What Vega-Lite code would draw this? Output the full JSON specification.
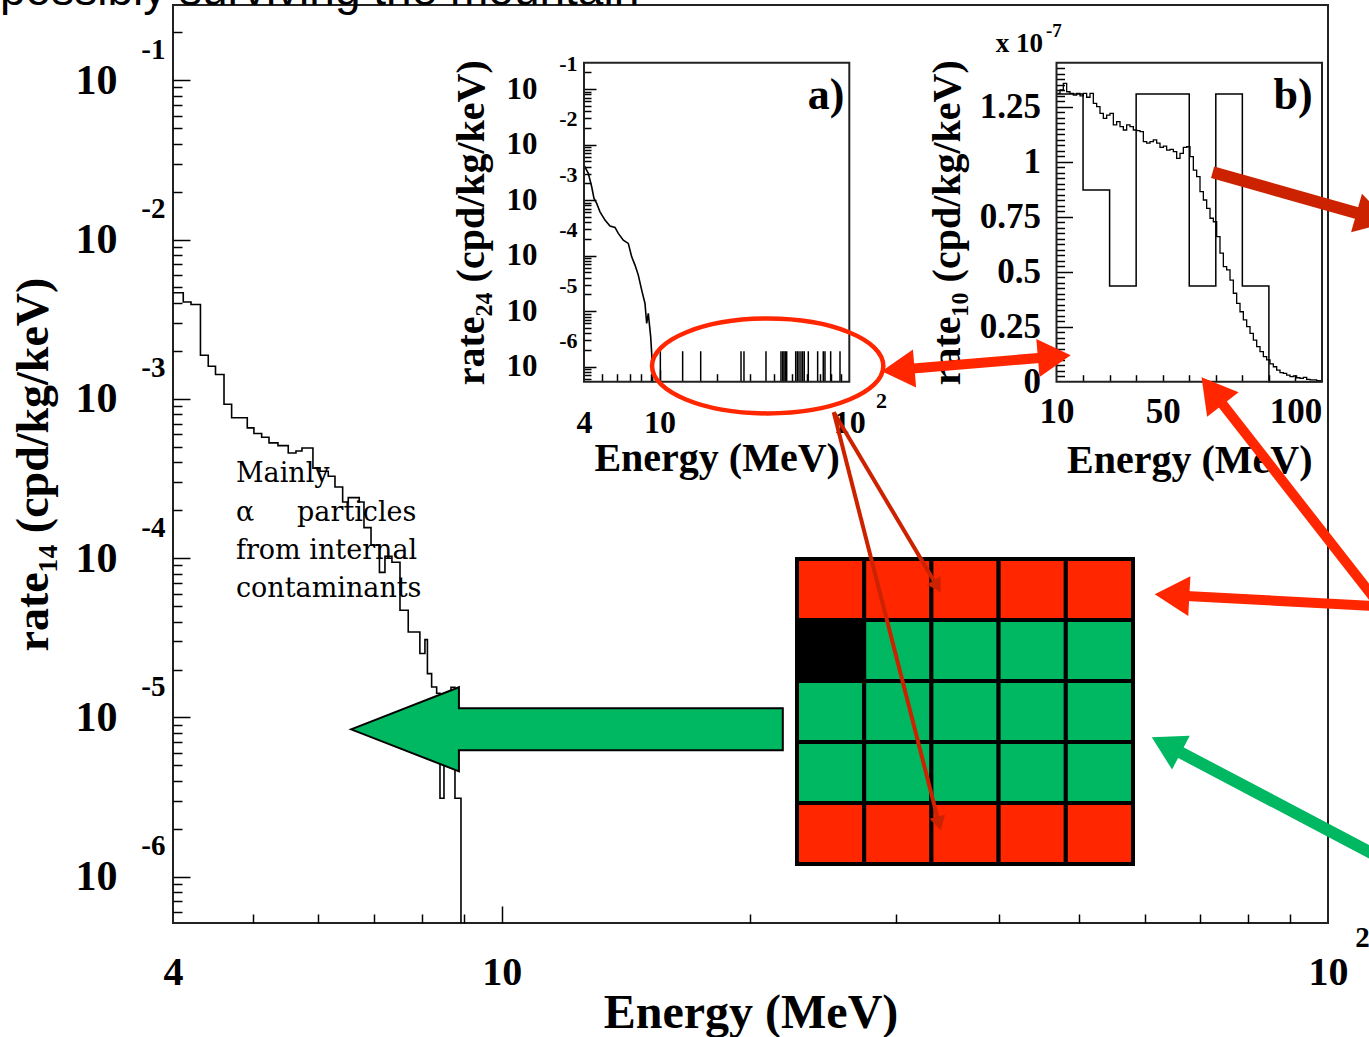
{
  "$schema": "https://vega.github.io/schema/vega-lite/v6.json",
  "width": 1155,
  "height": 918,
  "autosize": "none",
  "padding": {"left": 173, "top": 5, "right": 41, "bottom": 114},
  "config": {
    "view": {"stroke": "#222", "strokeWidth": 2},
    "axis": {"labelFont": "Liberation Serif", "labelFontWeight": "bold", "labelColor": "black", "titleFont": "Liberation Serif", "titleFontWeight": "bold", "titleColor": "black", "tickColor": "black", "tickWidth": 1.5, "domain": false, "grid": false, "labelFlush": false, "labelOverlap": false, "labelBound": false}
  },
  "layer": [
    {
      "data": {"values": [
        {"energy": 4.0, "rate": 4.634e-3}, {"energy": 4.116, "rate": 4.058e-3}, {"energy": 4.206, "rate": 3.908e-3},
        {"energy": 4.318, "rate": 1.878e-3}, {"energy": 4.413, "rate": 1.602e-3}, {"energy": 4.503, "rate": 1.421e-3},
        {"energy": 4.611, "rate": 9.25e-4}, {"energy": 4.710, "rate": 7.61e-4}, {"energy": 4.920, "rate": 6.57e-4},
        {"energy": 5.012, "rate": 6.06e-4}, {"energy": 5.121, "rate": 5.74e-4}, {"energy": 5.227, "rate": 5.29e-4},
        {"energy": 5.359, "rate": 5.09e-4}, {"energy": 5.515, "rate": 4.57e-4}, {"energy": 5.635, "rate": 4.71e-4},
        {"energy": 5.730, "rate": 4.92e-4}, {"energy": 5.908, "rate": 3.67e-4}, {"energy": 6.025, "rate": 3.51e-4},
        {"energy": 6.166, "rate": 3.27e-4}, {"energy": 6.282, "rate": 2.80e-4}, {"energy": 6.418, "rate": 2.25e-4},
        {"energy": 6.519, "rate": 2.40e-4}, {"energy": 6.722, "rate": 2.25e-4}, {"energy": 6.811, "rate": 1.556e-4},
        {"energy": 6.946, "rate": 1.205e-4}, {"energy": 7.111, "rate": 8.15e-5}, {"energy": 7.221, "rate": 1.028e-4},
        {"energy": 7.363, "rate": 9.42e-5}, {"energy": 7.530, "rate": 4.71e-5}, {"energy": 7.705, "rate": 3.44e-5},
        {"energy": 7.959, "rate": 2.52e-5}, {"energy": 8.072, "rate": 3.08e-5}, {"energy": 8.128, "rate": 1.886e-5},
        {"energy": 8.224, "rate": 1.554e-5}, {"energy": 8.340, "rate": 1.419e-5}, {"energy": 8.418, "rate": 3.11e-6},
        {"energy": 8.512, "rate": 9.6e-6}, {"energy": 8.680, "rate": 1.547e-5}, {"energy": 8.777, "rate": 3.11e-6},
        {"energy": 8.925, "rate": 5.13e-7}
      ]},
      "layer": [
        {
          "mark": {"type": "line", "interpolate": "step-after", "color": "black", "strokeWidth": 1.6},
          "encoding": {
            "x": {"field": "energy", "type": "quantitative", "scale": {"type": "log", "domain": [4, 100], "nice": false},
              "axis": {"orient": "bottom", "values": [4, 10, 100], "labelExpr": "datum.value == 100 ? '10' : '' + datum.value", "ticks": false, "labelFontSize": 40, "labelPadding": 29, "title": "Energy (MeV)", "titleFontSize": 48, "titlePadding": -3}},
            "y": {"field": "rate", "type": "quantitative", "scale": {"type": "log", "domain": [5.13e-7, 0.2965], "nice": false},
              "axis": {"orient": "left", "values": [0.1, 0.01, 0.001, 0.0001, 0.00001, 0.000001], "labelExpr": "'10'", "ticks": false, "labelFontSize": 42, "labelPadding": 56, "labelBaseline": "middle", "title": "rate₁₄ (cpd/kg/keV)", "titleFontSize": 46, "titlePadding": 18}}
          }
        },
        {
          "mark": {"type": "point", "opacity": 0},
          "encoding": {
            "x": {"field": "energy", "type": "quantitative", "axis": {"orient": "bottom", "values": [100], "labelExpr": "'2'", "ticks": false, "labelFontSize": 29, "labelPadding": 0, "labelOffset": 34, "title": null}},
            "y": {"field": "rate", "type": "quantitative", "axis": {"orient": "left", "values": [0.1, 0.01, 0.001, 0.0001, 0.00001, 0.000001], "labelExpr": "'' + round(log(datum.value)/LN10)", "ticks": false, "labelFontSize": 29, "labelPadding": 8, "labelOffset": -31, "labelBaseline": "middle", "title": null}}
          }
        },
        {
          "mark": {"type": "point", "opacity": 0},
          "encoding": {
            "x": {"field": "energy", "type": "quantitative", "axis": {"orient": "bottom", "values": [5, 6, 7, 8, 9, 10, 20, 30, 40, 50, 60, 70, 80, 90], "labels": false, "tickSize": {"condition": {"test": "datum.value == 10", "value": -17}, "value": -9}, "title": null}},
            "y": {"field": "rate", "type": "quantitative", "axis": {"orient": "left", "values": [6e-7, 7e-7, 8e-7, 9e-7, 1e-6, 2e-6, 3e-6, 4e-6, 5e-6, 6e-6, 7e-6, 8e-6, 9e-6, 1e-5, 2e-5, 3e-5, 4e-5, 5e-5, 6e-5, 7e-5, 8e-5, 9e-5, 1e-4, 2e-4, 3e-4, 4e-4, 5e-4, 6e-4, 7e-4, 8e-4, 9e-4, 1e-3, 2e-3, 3e-3, 4e-3, 5e-3, 6e-3, 7e-3, 8e-3, 9e-3, 1e-2, 2e-2, 3e-2, 4e-2, 5e-2, 6e-2, 7e-2, 8e-2, 9e-2, 0.1, 0.2], "labels": false, "tickSize": {"condition": {"test": "abs(log(datum.value)/LN10 - round(log(datum.value)/LN10)) < 0.01", "value": -17}, "value": -9}, "title": null}}
          }
        },
        {
          "data": {"values": [{"energy": 4.767, "rate": 4.045e-4, "note": "Mainly\nα\u00a0\u00a0\u00a0\u00a0\u00a0particles\nfrom internal\ncontaminants"}]},
          "mark": {"type": "text", "align": "left", "baseline": "top", "font": "DejaVu Serif", "fontSize": 27, "lineHeight": 38.3, "lineBreak": "\n", "color": "black"},
          "encoding": {
            "x": {"field": "energy", "type": "quantitative", "axis": null},
            "y": {"field": "rate", "type": "quantitative", "axis": null},
            "text": {"field": "note"}
          }
        },
        {
          "data": {"values": [{"energy": 2.47, "rate": 0.2957, "note": "possibly surviving the mountain"}]},
          "mark": {"type": "text", "align": "left", "baseline": "alphabetic", "font": "Liberation Sans", "fontSize": 46, "color": "black"},
          "encoding": {
            "x": {"field": "energy", "type": "quantitative", "axis": null},
            "y": {"field": "rate", "type": "quantitative", "axis": null},
            "text": {"field": "note"}
          }
        },
        {
          "data": {"values": [
            {"energy": 6.570, "rate": 8.43e-6, "rate2": 8.43e-6},
            {"energy": 8.874, "rate": 1.547e-5, "rate2": 4.594e-6},
            {"energy": 8.874, "rate": 1.142e-5, "rate2": 6.224e-6},
            {"energy": 21.885, "rate": 1.142e-5, "rate2": 6.224e-6}
          ]},
          "mark": {"type": "area", "interpolate": "linear", "fill": "#00b862", "stroke": "black", "strokeWidth": 2, "opacity": 1, "fillOpacity": 1},
          "encoding": {
            "x": {"field": "energy", "type": "quantitative", "axis": null},
            "y": {"field": "rate", "type": "quantitative", "axis": null},
            "y2": {"field": "rate2"}
          }
        }
      ],
      "resolve": {"axis": {"x": "independent", "y": "independent"}}
    },
    {
      "data": {"values": [
        {"energy": 4.0, "rate": 4.28e-3}, {"energy": 4.214, "rate": 3.03e-3}, {"energy": 4.391, "rate": 1.738e-3},
        {"energy": 4.515, "rate": 1.074e-3}, {"energy": 4.666, "rate": 8.73e-4}, {"energy": 4.857, "rate": 6.15e-4},
        {"energy": 5.160, "rate": 4.36e-4}, {"energy": 5.484, "rate": 3.40e-4}, {"energy": 5.826, "rate": 3.22e-4},
        {"energy": 6.064, "rate": 2.51e-4}, {"energy": 6.444, "rate": 1.90e-4}, {"energy": 6.847, "rate": 1.66e-4},
        {"energy": 7.135, "rate": 9.5e-5}, {"energy": 7.426, "rate": 6.75e-5}, {"energy": 7.730, "rate": 4.46e-5},
        {"energy": 8.055, "rate": 2.39e-5}, {"energy": 8.384, "rate": 1.377e-5}, {"energy": 8.558, "rate": 6.0e-6},
        {"energy": 8.727, "rate": 9.1e-6}, {"energy": 8.984, "rate": 3.44e-6}, {"energy": 9.094, "rate": 1.73e-6},
        {"energy": 9.206, "rate": 5.37e-7}
      ]},
      "layer": [
        {
          "mark": {"type": "line", "color": "black", "strokeWidth": 1.6},
          "encoding": {
            "x": {"field": "energy", "type": "quantitative", "scale": {"type": "log", "domain": [4, 100], "range": [411, 676.3], "nice": false},
              "axis": {"orient": "bottom", "offset": -541.3, "values": [4, 10, 100], "labelExpr": "datum.value == 100 ? '10' : '' + datum.value", "ticks": false, "labelFontSize": 32, "labelPadding": 26, "title": "Energy (MeV)", "titleFontSize": 40, "titlePadding": 0}},
            "y": {"field": "rate", "type": "quantitative", "scale": {"type": "log", "domain": [5.37e-7, 0.298], "range": [376.7, 57.7], "nice": false},
              "axis": {"orient": "left", "offset": -411, "values": [0.1, 0.01, 0.001, 0.0001, 0.00001, 0.000001], "labelExpr": "'10'", "ticks": false, "labelFontSize": 31, "labelPadding": 47, "labelBaseline": "middle", "title": "rate₂₄ (cpd/kg/keV)", "titleFontSize": 40, "titlePadding": 15}}
          }
        },
        {
          "mark": {"type": "point", "opacity": 0},
          "encoding": {
            "x": {"field": "energy", "type": "quantitative", "axis": {"orient": "bottom", "offset": -541.3, "values": [100], "labelExpr": "'2'", "ticks": false, "labelFontSize": 22, "labelPadding": 8.8, "labelOffset": 31.7, "title": null}},
            "y": {"field": "rate", "type": "quantitative", "axis": {"orient": "left", "offset": -411, "values": [0.1, 0.01, 0.001, 0.0001, 0.00001, 0.000001], "labelExpr": "'' + round(log(datum.value)/LN10)", "ticks": false, "labelFontSize": 22, "labelPadding": 7, "labelOffset": -26, "labelBaseline": "middle", "title": null}}
          }
        },
        {
          "mark": {"type": "point", "opacity": 0},
          "encoding": {
            "x": {"field": "energy", "type": "quantitative", "axis": {"orient": "bottom", "offset": -541.3, "values": [5, 6, 7, 8, 9, 10, 20, 30, 40, 50, 60, 70, 80, 90], "labels": false, "tickSize": {"condition": {"test": "datum.value == 10", "value": -12}, "value": -8}, "title": null}},
            "y": {"field": "rate", "type": "quantitative", "axis": {"orient": "left", "offset": -411, "values": [6e-7, 7e-7, 8e-7, 9e-7, 1e-6, 2e-6, 3e-6, 4e-6, 5e-6, 6e-6, 7e-6, 8e-6, 9e-6, 1e-5, 2e-5, 3e-5, 4e-5, 5e-5, 6e-5, 7e-5, 8e-5, 9e-5, 1e-4, 2e-4, 3e-4, 4e-4, 5e-4, 6e-4, 7e-4, 8e-4, 9e-4, 1e-3, 2e-3, 3e-3, 4e-3, 5e-3, 6e-3, 7e-3, 8e-3, 9e-3, 1e-2, 2e-2, 3e-2, 4e-2, 5e-2, 6e-2, 7e-2, 8e-2, 9e-2, 0.1, 0.2], "labels": false, "tickSize": {"condition": {"test": "abs(log(datum.value)/LN10 - round(log(datum.value)/LN10)) < 0.01", "value": -12}, "value": -7}, "title": null}}
          }
        },
        {
          "data": {"values": [
            {"energy": 10.1, "rate": 1.9e-6}, {"energy": 13.24, "rate": 1.9e-6}, {"energy": 16.48, "rate": 1.9e-6},
            {"energy": 26.88, "rate": 1.9e-6}, {"energy": 27.86, "rate": 1.9e-6}, {"energy": 36.39, "rate": 1.9e-6},
            {"energy": 43.65, "rate": 1.9e-6}, {"energy": 44.56, "rate": 1.9e-6}, {"energy": 45.27, "rate": 1.9e-6},
            {"energy": 46.01, "rate": 1.9e-6}, {"energy": 46.79, "rate": 1.9e-6}, {"energy": 52.19, "rate": 1.9e-6},
            {"energy": 53.21, "rate": 1.9e-6}, {"energy": 54.32, "rate": 1.9e-6}, {"energy": 55.64, "rate": 1.9e-6},
            {"energy": 56.80, "rate": 1.9e-6}, {"energy": 57.91, "rate": 1.9e-6}, {"energy": 60.80, "rate": 1.9e-6},
            {"energy": 68.11, "rate": 1.9e-6}, {"energy": 72.93, "rate": 1.9e-6}, {"energy": 74.44, "rate": 1.9e-6},
            {"energy": 79.77, "rate": 1.9e-6}, {"energy": 89.33, "rate": 1.9e-6}
          ]},
          "mark": {"type": "rule", "color": "black", "strokeWidth": 1.5},
          "encoding": {
            "x": {"field": "energy", "type": "quantitative", "axis": null},
            "y": {"field": "rate", "type": "quantitative", "axis": null},
            "y2": {"datum": 5.37e-7}
          }
        },
        {
          "data": {"values": [{}]},
          "mark": {"type": "rect", "fill": null, "stroke": "#222", "strokeWidth": 2},
          "encoding": {
            "x": {"datum": 4, "type": "quantitative", "axis": null},
            "x2": {"datum": 100},
            "y": {"datum": 5.37e-7, "type": "quantitative", "axis": null},
            "y2": {"datum": 0.298}
          }
        },
        {
          "data": {"values": [{}]},
          "mark": {"type": "text", "align": "center", "baseline": "alphabetic", "font": "Liberation Serif", "fontWeight": "bold", "fontSize": 44, "color": "black"},
          "encoding": {
            "x": {"datum": 75.4, "type": "quantitative", "axis": null},
            "y": {"datum": 0.0436, "type": "quantitative", "axis": null},
            "text": {"value": "a)"}
          }
        },
        {
          "data": {"values": [{}]},
          "mark": {"type": "point", "shape": "M -1 0 A 1 0.41 0 1 1 1 0 A 1 0.41 0 1 1 -1 0 Z", "size": 53500, "filled": false, "stroke": "#ff2600", "strokeWidth": 4.5, "opacity": 1},
          "encoding": {
            "x": {"datum": 37.15, "type": "quantitative", "axis": null},
            "y": {"datum": 1.03e-6, "type": "quantitative", "axis": null}
          }
        }
      ],
      "resolve": {"axis": {"x": "independent", "y": "independent"}}
    },
    {
      "data": {"values": [
        {"energy": 10.0, "rate": 1.311}, {"energy": 11.32, "rate": 1.326}, {"energy": 12.57, "rate": 1.356},
        {"energy": 13.83, "rate": 1.318}, {"energy": 15.08, "rate": 1.311}, {"energy": 16.34, "rate": 1.303},
        {"energy": 17.60, "rate": 1.311}, {"energy": 18.85, "rate": 1.299}, {"energy": 20.11, "rate": 1.311},
        {"energy": 21.36, "rate": 1.293}, {"energy": 22.62, "rate": 1.311}, {"energy": 23.87, "rate": 1.265},
        {"energy": 25.13, "rate": 1.250}, {"energy": 26.38, "rate": 1.220}, {"energy": 27.64, "rate": 1.197},
        {"energy": 28.90, "rate": 1.212}, {"energy": 30.15, "rate": 1.220}, {"energy": 31.41, "rate": 1.167},
        {"energy": 32.66, "rate": 1.182}, {"energy": 33.92, "rate": 1.159}, {"energy": 35.17, "rate": 1.144},
        {"energy": 36.43, "rate": 1.167}, {"energy": 37.68, "rate": 1.159}, {"energy": 38.94, "rate": 1.144},
        {"energy": 40.19, "rate": 1.141}, {"energy": 41.45, "rate": 1.137}, {"energy": 42.71, "rate": 1.091},
        {"energy": 43.96, "rate": 1.084}, {"energy": 45.22, "rate": 1.091}, {"energy": 46.47, "rate": 1.099},
        {"energy": 47.73, "rate": 1.084}, {"energy": 48.98, "rate": 1.065}, {"energy": 50.24, "rate": 1.071},
        {"energy": 51.49, "rate": 1.053}, {"energy": 52.75, "rate": 1.056}, {"energy": 54.01, "rate": 1.046},
        {"energy": 55.26, "rate": 1.015}, {"energy": 56.52, "rate": 1.038}, {"energy": 57.77, "rate": 1.065},
        {"energy": 59.03, "rate": 1.068}, {"energy": 60.28, "rate": 1.023}, {"energy": 61.54, "rate": 0.962},
        {"energy": 62.79, "rate": 0.932}, {"energy": 64.05, "rate": 0.864}, {"energy": 65.31, "rate": 0.826},
        {"energy": 66.56, "rate": 0.788}, {"energy": 67.82, "rate": 0.743}, {"energy": 69.07, "rate": 0.727},
        {"energy": 70.33, "rate": 0.659}, {"energy": 71.58, "rate": 0.584}, {"energy": 72.84, "rate": 0.523},
        {"energy": 74.09, "rate": 0.508}, {"energy": 75.35, "rate": 0.462}, {"energy": 76.61, "rate": 0.402},
        {"energy": 77.86, "rate": 0.356}, {"energy": 79.12, "rate": 0.318}, {"energy": 80.37, "rate": 0.281},
        {"energy": 81.63, "rate": 0.250}, {"energy": 82.88, "rate": 0.220}, {"energy": 84.14, "rate": 0.189},
        {"energy": 85.40, "rate": 0.159}, {"energy": 86.65, "rate": 0.137}, {"energy": 87.91, "rate": 0.114},
        {"energy": 89.16, "rate": 0.099}, {"energy": 90.42, "rate": 0.081}, {"energy": 91.67, "rate": 0.068},
        {"energy": 92.93, "rate": 0.053}, {"energy": 94.18, "rate": 0.041}, {"energy": 95.44, "rate": 0.038},
        {"energy": 96.69, "rate": 0.030}, {"energy": 97.95, "rate": 0.023}, {"energy": 99.21, "rate": 0.026},
        {"energy": 100.46, "rate": 0.018}, {"energy": 101.72, "rate": 0.015}, {"energy": 102.97, "rate": 0.020},
        {"energy": 104.23, "rate": 0.011}, {"energy": 105.48, "rate": 0.008}, {"energy": 106.74, "rate": 0.008},
        {"energy": 107.99, "rate": 0.005}, {"energy": 109.25, "rate": 0.005}, {"energy": 110.0, "rate": 0.005}
      ]},
      "layer": [
        {
          "mark": {"type": "line", "interpolate": "step-after", "color": "black", "strokeWidth": 1.3},
          "encoding": {
            "x": {"field": "energy", "type": "quantitative", "scale": {"type": "linear", "domain": [10, 110], "range": [883.5, 1149], "nice": false, "zero": false},
              "axis": {"orient": "bottom", "offset": -541.3, "values": [10, 50, 100], "labelExpr": "'' + datum.value", "ticks": false, "labelFontSize": 35, "labelPadding": 12.3, "title": "Energy (MeV)", "titleFontSize": 40, "titlePadding": 11}},
            "y": {"field": "rate", "type": "quantitative", "scale": {"type": "linear", "domain": [0, 1.45], "range": [376.7, 57.7], "nice": false},
              "axis": {"orient": "left", "offset": -883.5, "values": [0, 0.25, 0.5, 0.75, 1, 1.25], "labelExpr": "'' + datum.value", "ticks": false, "labelFontSize": 35, "labelPadding": 16, "labelBaseline": "middle", "title": "rate₁₀ (cpd/kg/keV)", "titleFontSize": 40, "titlePadding": 12}}
          }
        },
        {
          "data": {"values": [
            {"energy": 10, "rate": 1.308}, {"energy": 20, "rate": 0.871}, {"energy": 30, "rate": 0.435},
            {"energy": 40, "rate": 1.308}, {"energy": 50, "rate": 1.308}, {"energy": 60, "rate": 0.435},
            {"energy": 70, "rate": 1.308}, {"energy": 80, "rate": 0.435}, {"energy": 90, "rate": 0},
            {"energy": 110, "rate": 0}
          ]},
          "mark": {"type": "line", "interpolate": "step-after", "color": "black", "strokeWidth": 1.5},
          "encoding": {
            "x": {"field": "energy", "type": "quantitative", "axis": null},
            "y": {"field": "rate", "type": "quantitative", "axis": null}
          }
        },
        {
          "mark": {"type": "point", "opacity": 0},
          "encoding": {
            "x": {"field": "energy", "type": "quantitative", "axis": {"orient": "bottom", "offset": -541.3, "values": [20, 30, 40, 50, 60, 70, 80, 90, 100], "labels": false, "tickSize": -7, "title": null}},
            "y": {"field": "rate", "type": "quantitative", "axis": {"orient": "left", "offset": -883.5, "values": [0.025, 0.05, 0.075, 0.1, 0.125, 0.15, 0.175, 0.2, 0.225, 0.25, 0.275, 0.3, 0.325, 0.35, 0.375, 0.4, 0.425, 0.45, 0.475, 0.5, 0.525, 0.55, 0.575, 0.6, 0.625, 0.65, 0.675, 0.7, 0.725, 0.75, 0.775, 0.8, 0.825, 0.85, 0.875, 0.9, 0.925, 0.95, 0.975, 1, 1.025, 1.05, 1.075, 1.1, 1.125, 1.15, 1.175, 1.2, 1.225, 1.25, 1.275, 1.3, 1.325, 1.35, 1.375, 1.4, 1.425], "labels": false, "tickSize": {"condition": {"test": "abs(datum.value/0.25 - round(datum.value/0.25)) < 0.001", "value": -16}, "value": -8}, "title": null}}
          }
        },
        {
          "data": {"values": [{}]},
          "mark": {"type": "rect", "fill": null, "stroke": "#222", "strokeWidth": 2},
          "encoding": {
            "x": {"datum": 10, "type": "quantitative", "axis": null},
            "x2": {"datum": 110},
            "y": {"datum": 0, "type": "quantitative", "axis": null},
            "y2": {"datum": 1.45}
          }
        },
        {
          "data": {"values": [{}]},
          "mark": {"type": "text", "align": "center", "baseline": "alphabetic", "font": "Liberation Serif", "fontWeight": "bold", "fontSize": 44, "color": "black"},
          "encoding": {
            "x": {"datum": 99.08, "type": "quantitative", "axis": null},
            "y": {"datum": 1.2395, "type": "quantitative", "axis": null},
            "text": {"value": "b)"}
          }
        },
        {
          "data": {"values": [{}]},
          "mark": {"type": "text", "align": "right", "baseline": "alphabetic", "font": "Liberation Serif", "fontWeight": "bold", "fontSize": 27, "color": "black"},
          "encoding": {
            "x": {"datum": 4.92, "type": "quantitative", "axis": null},
            "y": {"datum": 1.4986, "type": "quantitative", "axis": null},
            "text": {"value": "x 10"}
          }
        },
        {
          "data": {"values": [{}]},
          "mark": {"type": "text", "align": "left", "baseline": "alphabetic", "font": "Liberation Serif", "fontWeight": "bold", "fontSize": 19, "color": "black"},
          "encoding": {
            "x": {"datum": 6.05, "type": "quantitative", "axis": null},
            "y": {"datum": 1.5668, "type": "quantitative", "axis": null},
            "text": {"value": "-7"}
          }
        }
      ],
      "resolve": {"axis": {"x": "independent", "y": "independent"}}
    },
    {
      "data": {"values": [
        {"col": 1, "row": 1, "crystal": "veto"}, {"col": 2, "row": 1, "crystal": "veto"}, {"col": 3, "row": 1, "crystal": "veto"}, {"col": 4, "row": 1, "crystal": "veto"}, {"col": 5, "row": 1, "crystal": "veto"},
        {"col": 1, "row": 2, "crystal": "excluded"}, {"col": 2, "row": 2, "crystal": "fiducial"}, {"col": 3, "row": 2, "crystal": "fiducial"}, {"col": 4, "row": 2, "crystal": "fiducial"}, {"col": 5, "row": 2, "crystal": "fiducial"},
        {"col": 1, "row": 3, "crystal": "fiducial"}, {"col": 2, "row": 3, "crystal": "fiducial"}, {"col": 3, "row": 3, "crystal": "fiducial"}, {"col": 4, "row": 3, "crystal": "fiducial"}, {"col": 5, "row": 3, "crystal": "fiducial"},
        {"col": 1, "row": 4, "crystal": "fiducial"}, {"col": 2, "row": 4, "crystal": "fiducial"}, {"col": 3, "row": 4, "crystal": "fiducial"}, {"col": 4, "row": 4, "crystal": "fiducial"}, {"col": 5, "row": 4, "crystal": "fiducial"},
        {"col": 1, "row": 5, "crystal": "veto"}, {"col": 2, "row": 5, "crystal": "veto"}, {"col": 3, "row": 5, "crystal": "veto"}, {"col": 4, "row": 5, "crystal": "veto"}, {"col": 5, "row": 5, "crystal": "veto"}
      ]},
      "mark": {"type": "rect", "stroke": "black", "strokeWidth": 4},
      "encoding": {
        "x": {"field": "col", "type": "ordinal", "scale": {"range": [624, 960], "paddingInner": 0, "paddingOuter": 0}, "axis": null},
        "y": {"field": "row", "type": "ordinal", "scale": {"range": [554, 859], "paddingInner": 0, "paddingOuter": 0}, "axis": null},
        "color": {"field": "crystal", "type": "nominal", "scale": {"domain": ["veto", "fiducial", "excluded"], "range": ["#ff2600", "#00b862", "#000000"]}, "legend": null}
      }
    },
    {
      "data": {"values": [{}]},
      "layer": [
        {
          "data": {"values": [
            {"e1": 30.18, "r1": 1.5207e-3, "e2": 46.64, "r2": 1.8402e-3},
            {"e1": 115.46, "r1": 4.990e-5, "e2": 64.75, "r2": 5.859e-5},
            {"e1": 115.46, "r1": 5.063e-5, "e2": 72.42, "r2": 1.1225e-3}
          ]},
          "mark": {"type": "rule", "color": "#ff2600", "strokeWidth": 10},
          "encoding": {
            "x": {"field": "e1", "type": "quantitative", "scale": {"type": "log", "domain": [4, 100], "nice": false}, "axis": null},
            "y": {"field": "r1", "type": "quantitative", "scale": {"type": "log", "domain": [5.13e-7, 0.2965], "nice": false}, "axis": null},
            "x2": {"field": "e2"},
            "y2": {"field": "r2"}
          }
        },
        {
          "data": {"values": [{"e1": 72.50, "r1": 2.6452e-2, "e2": 113.42, "r2": 1.3726e-2}]},
          "mark": {"type": "rule", "color": "#cc2200", "strokeWidth": 12},
          "encoding": {
            "x": {"field": "e1", "type": "quantitative", "axis": null},
            "y": {"field": "r1", "type": "quantitative", "axis": null},
            "x2": {"field": "e2"},
            "y2": {"field": "r2"}
          }
        },
        {
          "data": {"values": [{"e1": 115.46, "r1": 1.326e-6, "e2": 63.73, "r2": 6.721e-6}]},
          "mark": {"type": "rule", "color": "#00b862", "strokeWidth": 12},
          "encoding": {
            "x": {"field": "e1", "type": "quantitative", "axis": null},
            "y": {"field": "r1", "type": "quantitative", "axis": null},
            "x2": {"field": "e2"},
            "y2": {"field": "r2"}
          }
        },
        {
          "data": {"values": [
            {"e1": 25.22, "r1": 8.239e-4, "e2": 33.65, "r2": 6.662e-5},
            {"e1": 25.22, "r1": 8.239e-4, "e2": 33.82, "r2": 2.161e-6}
          ]},
          "mark": {"type": "rule", "color": "#cc2200", "strokeWidth": 4},
          "encoding": {
            "x": {"field": "e1", "type": "quantitative", "axis": null},
            "y": {"field": "r1", "type": "quantitative", "axis": null},
            "x2": {"field": "e2"},
            "y2": {"field": "r2"}
          }
        },
        {"mark": {"type": "point", "shape": "triangle-up", "angle": 265.2, "size": 1444, "filled": true, "color": "#ff2600", "opacity": 1, "strokeWidth": 0},
         "encoding": {"x": {"datum": 30.18, "type": "quantitative", "axis": null}, "y": {"datum": 1.5207e-3, "type": "quantitative", "axis": null}}},
        {"mark": {"type": "point", "shape": "triangle-up", "angle": 85.2, "size": 1444, "filled": true, "color": "#ff2600", "opacity": 1, "strokeWidth": 0},
         "encoding": {"x": {"datum": 46.64, "type": "quantitative", "axis": null}, "y": {"datum": 1.8402e-3, "type": "quantitative", "axis": null}}},
        {"mark": {"type": "point", "shape": "triangle-up", "angle": 105.8, "size": 1600, "filled": true, "color": "#cc2200", "opacity": 1, "strokeWidth": 0},
         "encoding": {"x": {"datum": 113.42, "type": "quantitative", "axis": null}, "y": {"datum": 1.3726e-2, "type": "quantitative", "axis": null}}},
        {"mark": {"type": "point", "shape": "triangle-up", "angle": 273.1, "size": 1600, "filled": true, "color": "#ff2600", "opacity": 1, "strokeWidth": 0},
         "encoding": {"x": {"datum": 64.75, "type": "quantitative", "axis": null}, "y": {"datum": 5.859e-5, "type": "quantitative", "axis": null}}},
        {"mark": {"type": "point", "shape": "triangle-up", "angle": 322, "size": 1600, "filled": true, "color": "#ff2600", "opacity": 1, "strokeWidth": 0},
         "encoding": {"x": {"datum": 72.42, "type": "quantitative", "axis": null}, "y": {"datum": 1.1225e-3, "type": "quantitative", "axis": null}}},
        {"mark": {"type": "point", "shape": "triangle-up", "angle": 297.8, "size": 1444, "filled": true, "color": "#00b862", "opacity": 1, "strokeWidth": 0},
         "encoding": {"x": {"datum": 63.73, "type": "quantitative", "axis": null}, "y": {"datum": 6.721e-6, "type": "quantitative", "axis": null}}},
        {"mark": {"type": "point", "shape": "triangle-up", "angle": 149.3, "size": 256, "filled": true, "color": "#cc2200", "opacity": 1, "strokeWidth": 0},
         "encoding": {"x": {"datum": 33.65, "type": "quantitative", "axis": null}, "y": {"datum": 6.662e-5, "type": "quantitative", "axis": null}}},
        {"mark": {"type": "point", "shape": "triangle-up", "angle": 165.6, "size": 256, "filled": true, "color": "#cc2200", "opacity": 1, "strokeWidth": 0},
         "encoding": {"x": {"datum": 33.82, "type": "quantitative", "axis": null}, "y": {"datum": 2.161e-6, "type": "quantitative", "axis": null}}}
      ]
    }
  ],
  "resolve": {"scale": {"x": "independent", "y": "independent", "color": "independent"}, "axis": {"x": "independent", "y": "independent"}}
}
